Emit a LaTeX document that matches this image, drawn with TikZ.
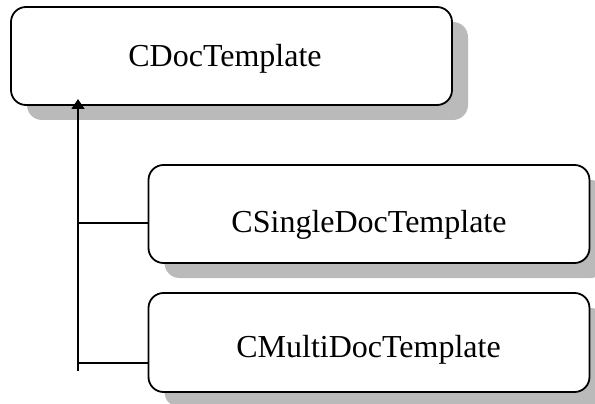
\documentclass[tikz,border=0pt]{standalone}
\usepackage{fontspec}
\setmainfont{Liberation Serif}
\usetikzlibrary{shadows,arrows.meta}
\begin{document}
\begin{tikzpicture}[x=1pt,y=-1pt,
  classbox/.style={draw=black, line width=1.8pt, fill=white, rounded corners=15pt,
    minimum width=441pt, minimum height=98pt, inner sep=0pt, outer sep=0pt,
    drop shadow={shadow xshift=16pt, shadow yshift=-15pt, fill=black!27, opacity=1}},
  classname/.style={font=\fontsize{32}{38}\selectfont, anchor=base, inner sep=0pt},
  link/.style={line width=1.4pt},
  solidhead/.style={-{Triangle[width=13pt,length=10pt]}}]
\useasboundingbox (0,0) rectangle (595,404);

% class boxes
\node[classbox] (base) at (231.5,56) {};
\node[classbox] (single) at (369,214) {};
\node[classbox, minimum height=99pt] (multi) at (369,342.5) {};

% class names
\node[classname] (baseT) at (225,67) {CDocTemplate};
\node[classname] (singleT) at (369,232) {CSingleDocTemplate};
\node[classname] (multiT) at (368.5,357) {CMultiDocTemplate};

% inheritance tree
\coordinate (stemEnd) at (78,371);
\coordinate (tip) at (78,99);
\coordinate (j1) at (78,223);
\coordinate (j2) at (78,363);
\draw[link, solidhead] (stemEnd) -- (tip);
\draw[link] (j1) -- (j1 -| single.west);
\draw[link] (j2) -- (j2 -| multi.west);
\end{tikzpicture}
\end{document}
